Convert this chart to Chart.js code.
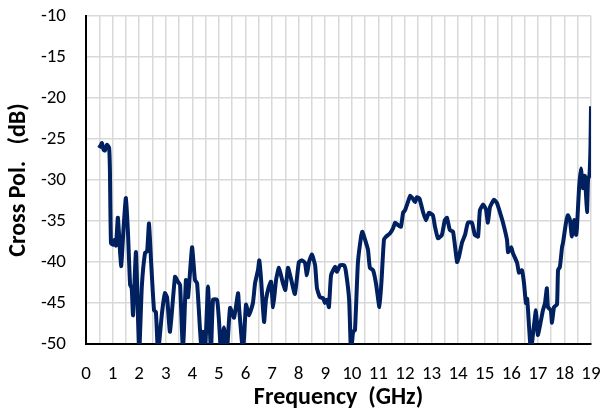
<!DOCTYPE html>
<html>
<head>
<meta charset="utf-8">
<title>Cross Pol.</title>
<script src="https://cdn.jsdelivr.net/npm/chart.js@4"></script>
<style>
    body { margin: 0; background: #fff; }
    #wrap { width: 611px; height: 412px; }
</style>
</head>
<body>
<div id="wrap"><canvas id="crossPolChart"></canvas></div>
<script>
// frecuencias (GHz)
var freqs = [
    0.49, 0.55, 0.6, 0.66, 0.71, 0.79, 0.87, 0.9, 0.94, 1.02, 1.08, 1.13, 1.2, 1.32, 1.42, 1.5, 1.58, 1.66, 1.72, 1.77,
    1.88, 2.0, 2.1, 2.22, 2.3, 2.37, 2.45, 2.56, 2.63, 2.71, 2.86, 2.97, 3.05, 3.16, 3.35, 3.46, 3.54, 3.65, 3.76, 3.84,
    3.99, 4.1, 4.18, 4.29, 4.35, 4.4, 4.48, 4.59, 4.7, 4.78, 4.93, 5.0, 5.08, 5.19, 5.3, 5.42, 5.57, 5.72, 5.76, 5.91,
    6.02, 6.13, 6.28, 6.36, 6.47, 6.52, 6.58, 6.7, 6.77, 6.88, 6.96, 7.04, 7.15, 7.26, 7.41, 7.5, 7.6, 7.71, 7.86, 8.01,
    8.13, 8.24, 8.31, 8.39, 8.5, 8.62, 8.69, 8.8, 8.92, 8.99, 9.07, 9.14, 9.22, 9.37, 9.44, 9.56, 9.71, 9.78, 9.9, 9.97,
    10.05, 10.12, 10.23, 10.35, 10.4, 10.53, 10.61, 10.68, 10.8, 10.91, 11.04, 11.12, 11.21, 11.29, 11.44, 11.55, 11.63, 11.74, 11.85, 11.93,
    12.0, 12.11, 12.2, 12.3, 12.38, 12.45, 12.55, 12.68, 12.79, 12.9, 13.05, 13.13, 13.24, 13.39, 13.5, 13.58, 13.69, 13.81, 13.96, 14.03,
    14.15, 14.26, 14.37, 14.52, 14.63, 14.75, 14.82, 14.94, 15.05, 15.12, 15.2, 15.35, 15.46, 15.58, 15.69, 15.84, 15.88, 16.0, 16.06, 16.22,
    16.29, 16.4, 16.48, 16.55, 16.6, 16.67, 16.74, 16.82, 16.93, 17.0, 17.12, 17.19, 17.27, 17.34, 17.38, 17.49, 17.53, 17.61, 17.72, 17.76,
    17.83, 17.91, 17.95, 18.06, 18.13, 18.21, 18.28, 18.36, 18.44, 18.47, 18.55, 18.62, 18.7, 18.77, 18.85, 18.89, 18.94, 18.98, 19.0
];

// polarizacion cruzada (dB)
var crossPol = [
    -26.1, -25.8, -25.5, -26.3, -26.4, -25.7, -26.1, -28.8, -37.7, -37.9, -37.3, -38.0, -34.6, -40.5, -35.5, -32.2, -36.5, -42.8, -43.2, -46.5,
    -38.8, -51, -43, -38.9, -38.7, -35.3, -40, -45.9, -46.1, -51, -46.2, -43.8, -44.3, -48.5, -41.8, -42.4, -42.8, -51, -42.2, -44.3,
    -38.2, -42.2, -42.6, -48.3, -51, -48.5, -51, -43, -51, -44.6, -44.6, -47, -51, -48, -51, -45.6, -46.8, -43.8, -45.6, -51,
    -45.2, -46.5, -45, -42.6, -41, -39.8, -41.8, -47.3, -44.6, -43, -42.4, -45.5, -42.2, -40.7, -42.6, -43.4, -40.7, -42, -43.9, -40,
    -39.8, -40.1, -41.6, -40, -39.1, -40.4, -43.2, -44.3, -44.4, -45, -44.6, -45.5, -41.6, -40.6, -41.2, -40.4, -40.4, -41.2, -44.6, -51,
    -48.5, -48.3, -40.1, -36.9, -36.3, -37.6, -38.5, -40.7, -41, -42.6, -45.5, -42.2, -37.3, -36.9, -36.5, -35.9, -35.2, -35.5, -35.7, -34,
    -33.7, -32.7, -31.9, -32.3, -32.7, -32.1, -32.3, -33.9, -34.9, -34, -34.3, -35.7, -37.1, -36.7, -34.9, -34.6, -36.1, -36.3, -40, -39.4,
    -37.6, -36.7, -35.2, -35.2, -36.7, -36.9, -33.7, -33, -33.6, -35.2, -33.3, -32.4, -32.8, -34, -35.2, -37.3, -38.8, -38.2, -38.9, -40.1,
    -41.3, -41, -42.6, -45, -44.5, -47.9, -51, -48.7, -45.9, -48.9, -47.1, -45.9, -45, -43.2, -45.5, -45.9, -47.4, -45.5, -45.2, -41,
    -40.6, -38.2, -37.6, -35.2, -34.3, -34.9, -36.9, -34.9, -36.7, -35.9, -31, -28.6, -31, -29.5, -33.9, -29.8, -29.5, -26, -21
];

var yTicks = [-50, -45, -40, -35, -30, -25, -20, -15, -10];

var puntos = freqs.map(function (f, i) {
    return { x: f, y: crossPol[i] };
});

var fuente = "Carlito, Lato, 'Liberation Sans', sans-serif";

new Chart(document.getElementById('crossPolChart').getContext('2d'), {
    type: 'line',
    data: {
        datasets: [{
            data: puntos,
            borderColor: '#002060',
            borderWidth: 4,
            pointRadius: 0,
            tension: 0.15,
            fill: false
        }]
    },
    options: {
        responsive: true,
        maintainAspectRatio: false,
        animation: false,
        layout: { padding: { top: 16, right: 20, left: 0, bottom: 0 } },
        plugins: {
            legend: { display: false },
            tooltip: { enabled: false }
        },
        scales: {
            x: {
                type: 'linear',
                min: 0,
                max: 19,
                afterFit: function (scale) {
                    scale.height = 68;
                    scale.paddingLeft = 0;
                    scale.paddingRight = 0;
                },
                ticks: {
                    stepSize: 0.5,
                    autoSkip: false,
                    maxRotation: 0,
                    padding: 19,
                    color: '#000',
                    font: { family: fuente, size: 19 },
                    callback: function (v) { return Number.isInteger(v) ? String(v) : ''; }
                },
                grid: { color: '#d9d9d9', lineWidth: 1.5, drawTicks: false },
                border: { color: '#000', width: 2 },
                title: {
                    display: true,
                    text: 'Frequency  (GHz)',
                    color: '#000',
                    font: { family: fuente, size: 24, weight: 'bold' },
                    padding: { top: 0, bottom: 0 }
                }
            },
            y: {
                min: -50,
                max: -10,
                afterFit: function (scale) {
                    scale.width = 86;
                    scale.paddingTop = 0;
                    scale.paddingBottom = 0;
                },
                afterBuildTicks: function (scale) {
                    scale.ticks = yTicks.map(function (v) { return { value: v }; });
                },
                ticks: {
                    padding: 20,
                    color: '#000',
                    font: { family: fuente, size: 19 }
                },
                grid: { color: '#d9d9d9', lineWidth: 1.5, drawTicks: false },
                border: { color: '#000', width: 2 },
                title: {
                    display: true,
                    text: 'Cross Pol.   (dB)',
                    color: '#000',
                    font: { family: fuente, size: 24, weight: 'bold' },
                    padding: { top: 5, bottom: 0 }
                }
            }
        }
    }
});
</script>
</body>
</html>
